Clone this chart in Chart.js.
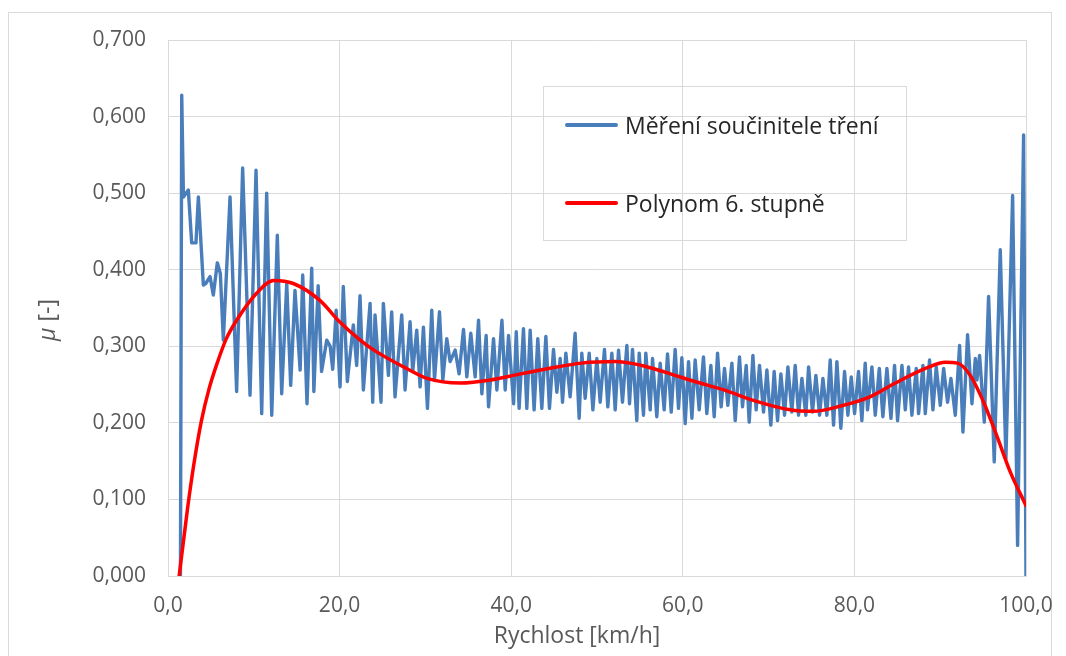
<!DOCTYPE html>
<html lang="cs">
<head>
<meta charset="utf-8">
<title>Součinitel tření</title>
<script src="https://cdn.jsdelivr.net/npm/chart.js@4.4.1/dist/chart.umd.min.js"></script>
<style>
    html, body { margin: 0; padding: 0; background: #fff; }
    #wrap { position: relative; width: 1066px; height: 656px; overflow: hidden; font-family: 'Open Sans', sans-serif; }
    #frame { position: absolute; left: 8px; top: 12px; width: 1042px; height: 700px; border: 1px solid #d9d9d9; }
    #graf { position: absolute; left: 0; top: 0; }
    .legenda { position: absolute; left: 543px; top: 86px; width: 362px; height: 153px; border: 1px solid #d9d9d9; }
    .leg-item { position: absolute; left: 21px; height: 30px; display: flex; align-items: center; font-size: 23px; color: #262626; white-space: nowrap; }
    .leg-line { width: 53px; height: 4px; margin-right: 7px; border-radius: 2px; }
</style>
</head>
<body>
<div id="wrap">
    <div id="frame"></div>
    <canvas id="graf" width="1066" height="656"></canvas>
    <div class="legenda">
        <div class="leg-item" style="top:23px"><span class="leg-line" style="background:#4a7ebb"></span>Měření součinitele tření</div>
        <div class="leg-item" style="top:101px"><span class="leg-line" style="background:#ff0000"></span>Polynom 6. stupně</div>
    </div>
</div>
<script>
(function () {
    'use strict';

    /* ── osy ── */
    var xTickLabels = ['0,0', '20,0', '40,0', '60,0', '80,0', '100,0'];
    var yTickLabels = ['0,000', '0,100', '0,200', '0,300', '0,400', '0,500', '0,600', '0,700'];
    var xTitle = 'Rychlost [km/h]';
    var yTitleSym = 'μ';
    var yTitleUnit = ' [-]';

    /* ── měření součinitele tření (rychlost km/h, mu) ── */
    var mereniX = [
        1.45, 1.6, 1.8, 2.37, 2.76, 3.26, 3.54, 4.12, 4.4, 4.9,
        5.28, 5.75, 6.1, 6.45, 7.23, 8.0, 8.7, 9.56, 10.26, 10.92,
        11.5, 12.09, 12.74, 13.25, 13.84, 14.3, 14.8, 15.4, 15.7, 16.2,
        16.75, 17.0, 17.5, 17.9, 18.5, 18.9, 19.2, 19.6,
        20.05, 20.43, 20.90, 21.60, 21.99, 22.38, 22.77, 23.55, 23.86, 24.13,
        24.83, 25.10, 25.69, 26.07, 26.46, 27.24, 27.63, 28.21, 28.52, 28.99,
        29.38, 29.77, 30.24, 30.74, 31.06, 31.64, 32.03, 32.49, 32.88, 33.47,
        33.93, 34.44, 34.83, 35.29, 35.80, 36.19, 36.58, 37.08, 37.36, 37.94,
        38.33, 38.92, 39.30, 39.69, 40.28, 40.59,
        40.92, 41.43, 41.82, 42.21, 42.67, 43.10, 43.57, 44.04, 44.46, 44.93,
        45.32, 45.71, 45.98, 46.37, 46.87, 47.45, 47.92, 48.23, 48.62, 49.09,
        49.52, 49.98, 50.37, 50.87, 51.26, 51.73, 52.12, 52.51, 52.97, 53.48,
        53.79, 54.14, 54.64, 54.92, 55.42, 55.69, 56.20, 56.47, 56.97, 57.36,
        57.83, 58.22, 58.65, 59.11, 59.50, 59.89, 60.28, 60.67, 61.06,
        61.44, 61.91, 62.41, 62.80, 63.27, 63.66, 64.05, 64.47, 64.86, 65.25,
        65.72, 66.11, 66.61, 66.96, 67.39, 67.74, 68.17, 68.55, 68.94, 69.41,
        69.80, 70.26, 70.65, 71.04, 71.43, 71.86, 72.25, 72.71, 73.10, 73.49,
        73.88, 74.34, 74.66, 75.12, 75.51, 75.94, 76.33, 76.79, 77.18, 77.57,
        77.96, 78.42, 78.85, 79.24, 79.63, 80.02, 80.48, 80.87, 81.26,
        81.53, 82.04, 82.43, 82.90, 83.32, 83.79, 84.26, 84.68, 85.03, 85.54,
        85.93, 86.31, 86.70, 87.21, 87.48, 87.99, 88.26, 88.76, 89.15, 89.54,
        90.01, 90.40, 90.86, 91.25, 91.76, 92.26, 92.65, 93.19, 93.70, 94.09,
        94.28, 94.59, 95.14, 95.64, 96.30, 97.00, 97.66, 98.44, 99.02, 99.72,
        100.0
    ];
    var mereniY = [
        0.000, 0.628, 0.495, 0.504, 0.435, 0.435, 0.495, 0.380, 0.382, 0.391,
        0.367, 0.409, 0.395, 0.308, 0.495, 0.241, 0.533, 0.236, 0.530, 0.212,
        0.500, 0.210, 0.445, 0.238, 0.382, 0.249, 0.373, 0.269, 0.393, 0.225,
        0.402, 0.241, 0.379, 0.267, 0.308, 0.300, 0.270, 0.347,
        0.247, 0.378, 0.254, 0.328, 0.275, 0.366, 0.243, 0.356, 0.227, 0.341,
        0.227, 0.356, 0.262, 0.345, 0.234, 0.341, 0.243, 0.332, 0.267, 0.321,
        0.247, 0.325, 0.219, 0.347, 0.256, 0.345, 0.256, 0.310, 0.280, 0.295,
        0.264, 0.322, 0.260, 0.317, 0.260, 0.334, 0.238, 0.314, 0.221, 0.310,
        0.243, 0.334, 0.243, 0.314, 0.225, 0.319,
        0.219, 0.323, 0.219, 0.321, 0.217, 0.310, 0.219, 0.313, 0.219, 0.296,
        0.240, 0.284, 0.227, 0.291, 0.234, 0.317, 0.206, 0.291, 0.232, 0.291,
        0.217, 0.284, 0.227, 0.296, 0.221, 0.291, 0.217, 0.295, 0.227, 0.301,
        0.225, 0.296, 0.203, 0.291, 0.210, 0.291, 0.217, 0.284, 0.208, 0.278,
        0.217, 0.290, 0.214, 0.296, 0.219, 0.285, 0.199, 0.280, 0.206,
        0.282, 0.217, 0.286, 0.212, 0.275, 0.208, 0.291, 0.221, 0.271, 0.223,
        0.278, 0.203, 0.286, 0.221, 0.275, 0.201, 0.288, 0.217, 0.275, 0.214,
        0.269, 0.197, 0.267, 0.203, 0.264, 0.210, 0.273, 0.214, 0.275, 0.210,
        0.258, 0.210, 0.273, 0.214, 0.262, 0.210, 0.258, 0.210, 0.282, 0.197,
        0.280, 0.193, 0.267, 0.210, 0.260, 0.212, 0.267, 0.203, 0.278,
        0.217, 0.273, 0.210, 0.271, 0.208, 0.271, 0.206, 0.275, 0.203, 0.275,
        0.217, 0.273, 0.210, 0.271, 0.212, 0.275, 0.212, 0.282, 0.217, 0.273,
        0.223, 0.271, 0.227, 0.258, 0.210, 0.301, 0.188, 0.315, 0.225, 0.284,
        0.256, 0.288, 0.201, 0.365, 0.149, 0.426, 0.153, 0.497, 0.040, 0.576,
        0.000
    ];

    /* ── polynom 6. stupně ── */
    var polyX = [
        1.3, 2.3, 3.0, 3.9, 4.8, 5.7, 6.8, 8.0, 10.3, 12.3,
        14.6, 17.7, 20.0, 22.4, 24.0, 27.8, 30.2, 34.1, 37.6, 41.1,
        44.4, 48.2, 52.1, 55.2, 58.0, 61.4, 64.8, 68.6, 72.5, 75.2,
        78.4, 81.8, 84.6, 88.5, 90.6, 92.0, 93.5, 95.1, 96.6, 98.2,
        100.0
    ];
    var polyY = [
        0.000, 0.090, 0.145, 0.203, 0.245, 0.277, 0.310, 0.334, 0.369, 0.386,
        0.382, 0.360, 0.332, 0.308, 0.295, 0.271, 0.258, 0.252, 0.256, 0.264,
        0.271, 0.278, 0.280, 0.275, 0.266, 0.254, 0.243, 0.228, 0.217, 0.215,
        0.222, 0.234, 0.251, 0.272, 0.279, 0.278, 0.262, 0.226, 0.183, 0.135,
        0.092
    ];

    var GRID = '#d9d9d9';
    var TEXT = '#595959';
    var FONT = "'Open Sans', sans-serif";

    function points(xs, ys) {
        return xs.map(function (x, i) { return { x: x, y: ys[i] }; });
    }

    /* popisky os: μ kurzívou, jednotka normálně */
    var titulkyOs = {
        id: 'titulkyOs',
        afterDraw: function (chart) {
            var ctx = chart.ctx;
            var area = chart.chartArea;
            ctx.save();
            ctx.fillStyle = TEXT;
            ctx.textBaseline = 'middle';

            ctx.font = '23px ' + FONT;
            ctx.textAlign = 'center';
            ctx.fillText(xTitle, area.left + (area.right - area.left) / 2 - 20, 636);

            var it = 'italic 23px ' + FONT, nr = '23px ' + FONT;
            ctx.font = it;
            var w1 = ctx.measureText(yTitleSym).width;
            ctx.font = nr;
            var w2 = ctx.measureText(yTitleUnit).width;
            ctx.translate(48, area.top + (area.bottom - area.top) / 2 + 12);
            ctx.rotate(-Math.PI / 2);
            ctx.textAlign = 'left';
            ctx.font = it;
            ctx.fillText(yTitleSym, -(w1 + w2) / 2, 0);
            ctx.font = nr;
            ctx.fillText(yTitleUnit, -(w1 + w2) / 2 + w1, 0);
            ctx.restore();
        }
    };

    Chart.defaults.font.family = FONT;

    new Chart(document.getElementById('graf'), {
        type: 'line',
        data: {
            datasets: [{
                label: 'Polynom 6. stupně',
                data: points(polyX, polyY),
                borderColor: '#ff0000',
                borderWidth: 3.5,
                pointRadius: 0,
                cubicInterpolationMode: 'monotone',
                borderJoinStyle: 'round',
                borderCapStyle: 'round'
            }, {
                label: 'Měření součinitele tření',
                data: points(mereniX, mereniY),
                borderColor: '#4a7ebb',
                borderWidth: 3.4,
                pointRadius: 0,
                tension: 0,
                borderJoinStyle: 'round',
                borderCapStyle: 'round'
            }]
        },
        options: {
            responsive: false,
            animation: false,
            layout: { padding: { left: 0, right: 40, top: 40, bottom: 0 } },
            plugins: {
                legend: { display: false },
                tooltip: { enabled: false }
            },
            scales: {
                x: {
                    type: 'linear',
                    min: 0,
                    max: 100,
                    afterFit: function (s) {
                        s.height = 80;
                        s.paddingLeft = 0;
                        s.paddingRight = 0;
                    },
                    ticks: {
                        stepSize: 20,
                        padding: 17,
                        color: TEXT,
                        font: { size: 21 },
                        maxRotation: 0,
                        callback: function (v, i) { return xTickLabels[i]; }
                    },
                    grid: { color: GRID, drawTicks: false },
                    border: { color: GRID }
                },
                y: {
                    min: 0,
                    max: 0.7,
                    afterFit: function (s) {
                        s.width = 168;
                        s.paddingTop = 0;
                        s.paddingBottom = 0;
                    },
                    ticks: {
                        stepSize: 0.1,
                        padding: 22,
                        color: TEXT,
                        font: { size: 21 },
                        callback: function (v, i) { return yTickLabels[i]; }
                    },
                    grid: { color: GRID, drawTicks: false },
                    border: { color: GRID }
                }
            }
        },
        plugins: [titulkyOs]
    });
})();
</script>
</body>
</html>
